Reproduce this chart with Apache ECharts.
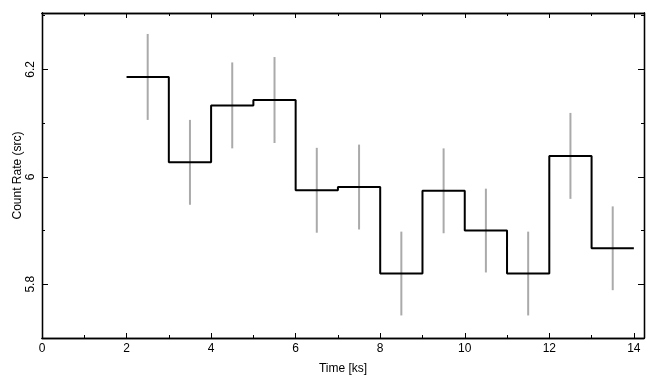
<!DOCTYPE html>
<html>
<head>
<meta charset="utf-8">
<script src="https://cdn.jsdelivr.net/npm/echarts@6/dist/echarts.min.js"></script>
<style>html,body{margin:0;padding:0;background:#fff}#c{width:655px;height:385px}</style>
</head>
<body>
<div id="c"></div>
<script>
var binStarts = [2, 3, 4, 5, 6, 7, 8, 9, 10, 11, 12, 13];
var binWidth = 1;
var rates = [6.186, 6.027, 6.133, 6.143, 5.975, 5.981, 5.820, 5.974, 5.900, 5.820, 6.039, 5.867];
var errors = [0.080, 0.079, 0.080, 0.080, 0.079, 0.079, 0.078, 0.079, 0.078, 0.078, 0.080, 0.078];
var xTickLabels = ['0', '2', '4', '6', '8', '10', '12', '14'];
var yTickLabels = ['5.8', '6', '6.2'];

var FONT = 'Liberation Sans, Arial, Helvetica, sans-serif';
var xMin = 0, xMax = 14.24, yMin = 5.7, yMax = 6.305;

// step line points: each bin start, then the final bin end
var stepData = binStarts.map(function (s, i) { return [s, rates[i]]; });
stepData.push([binStarts[binStarts.length - 1] + binWidth, rates[rates.length - 1]]);
var errData = binStarts.map(function (s, i) { return [s + binWidth / 2, rates[i] - errors[i], rates[i] + errors[i]]; });

function isLabel(v, list) {
  for (var i = 0; i < list.length; i++) { if (Math.abs(parseFloat(list[i]) - v) < 1e-6) return list[i]; }
  return '';
}

var lineStyle = { color: '#000', width: 1.3 };
function xAx(pos, interval, len, labels) {
  return {
    type: 'value', position: pos, min: xMin, max: xMax, interval: interval,
    axisLine: { show: true, onZero: false, lineStyle: lineStyle },
    axisTick: { show: true, inside: true, length: len, lineStyle: { color: '#000', width: 1 } },
    axisLabel: labels ? { show: true, margin: 5, color: '#000', fontSize: 12, fontFamily: FONT,
      formatter: function (v) { return isLabel(v, xTickLabels); } } : { show: false },
    splitLine: { show: false },
    name: labels ? 'Time [ks]' : '', nameLocation: 'middle', nameGap: 25, nameMoveOverlap: false,
    nameTextStyle: { color: '#000', fontSize: 12, fontFamily: FONT }
  };
}
function yAx(pos, interval, len, labels) {
  var o = {
    type: 'value', position: pos, min: yMin, max: yMax,
    axisLine: { show: true, onZero: false, lineStyle: lineStyle },
    axisTick: { show: true, inside: true, length: len, lineStyle: { color: '#000', width: 1 } },
    axisLabel: labels ? { show: true, rotate: 90, margin: 5, color: '#000', fontSize: 12, fontFamily: FONT,
      formatter: function (v) { return isLabel(v, yTickLabels); } } : { show: false },
    splitLine: { show: false },
    name: labels ? 'Count Rate (src)' : '', nameLocation: 'middle', nameGap: 18, nameMoveOverlap: false,
    nameTextStyle: { color: '#000', fontSize: 12, fontFamily: FONT }
  };
  if (interval) o.interval = interval; else o.splitNumber = 3;
  return o;
}

var chart = echarts.init(document.getElementById('c'), null, { renderer: 'canvas' });
chart.setOption({
  backgroundColor: '#fff',
  animation: false,
  grid: { left: 42, right: 11, top: 13, bottom: 47, containLabel: false, outerBoundsMode: 'none' },
  xAxis: [xAx('bottom', 2, 5, true), xAx('bottom', 1, 3, false), xAx('top', 2, 5, false), xAx('top', 1, 3, false)],
  yAxis: [yAx('left', null, 6, true), yAx('left', 0.1, 3, false), yAx('right', null, 6, false), yAx('right', 0.1, 3, false)],
  series: [
    {
      type: 'custom', xAxisIndex: 0, yAxisIndex: 0,
      data: errData,
      renderItem: function (params, api) {
        var p1 = api.coord([api.value(0), api.value(1)]);
        var p2 = api.coord([api.value(0), api.value(2)]);
        return { type: 'line', shape: { x1: p1[0], y1: p1[1], x2: p2[0], y2: p2[1] },
          style: { stroke: '#aaaaaa', lineWidth: 2 } };
      },
      z: 2
    },
    {
      type: 'line', xAxisIndex: 0, yAxisIndex: 0, step: 'end',
      data: stepData, showSymbol: false, symbol: 'none',
      lineStyle: { color: '#000', width: 2 }, z: 3
    }
  ]
});
</script>
</body>
</html>
